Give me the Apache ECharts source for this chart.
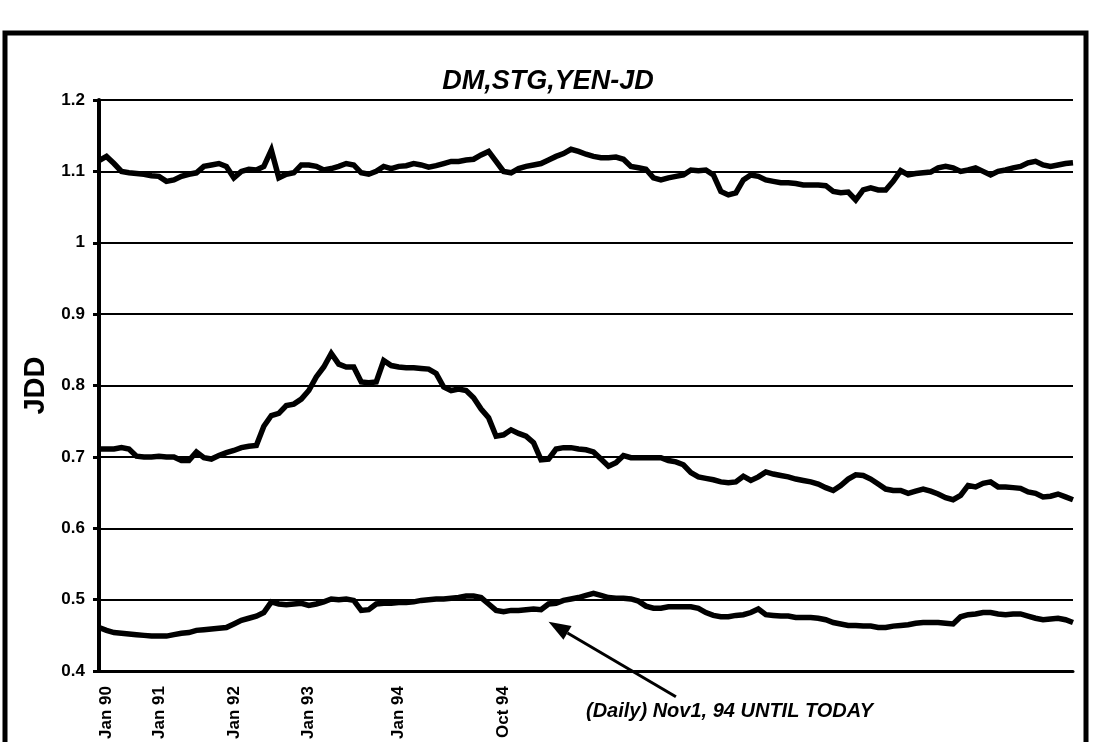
<!DOCTYPE html>
<html>
<head>
<meta charset="utf-8">
<title>DM,STG,YEN-JD</title>
<script src="https://cdn.jsdelivr.net/npm/echarts@6/dist/echarts.min.js"></script>
<style>
html, body { margin: 0; padding: 0; background: #fff; }
#chart { width: 1096px; height: 742px; }
</style>
</head>
<body>
<div id="chart"></div>
<script>
// labelled slots on the x axis (monthly up to Oct 94, daily after)
var tickNames = ['Jan 90', 'Jan 91', 'Jan 92', 'Jan 93', 'Jan 94', 'Oct 94'];
var tickSlots = [1, 8, 18, 28, 40, 54];

// STG-JD (top line)
var stg = [
	1.115, 1.121, 1.111, 1.100, 1.098, 1.097, 1.096, 1.094, 1.093, 1.086,
	1.088, 1.093, 1.096, 1.098, 1.107, 1.109, 1.111, 1.107, 1.091, 1.100,
	1.103, 1.102, 1.107, 1.130, 1.091, 1.096, 1.098, 1.109, 1.109, 1.107,
	1.102, 1.104, 1.107, 1.111, 1.109, 1.098, 1.096, 1.100, 1.107, 1.104,
	1.107, 1.108, 1.111, 1.109, 1.106, 1.108, 1.111, 1.114, 1.114, 1.116,
	1.117, 1.123, 1.128, 1.114, 1.100, 1.098, 1.104, 1.107, 1.109, 1.111,
	1.116, 1.121, 1.125, 1.131, 1.128, 1.124, 1.121, 1.119, 1.119, 1.120,
	1.117, 1.107, 1.105, 1.103, 1.091, 1.088, 1.091, 1.093, 1.095, 1.102,
	1.101, 1.102, 1.095, 1.072, 1.067, 1.070, 1.088, 1.095, 1.093, 1.088,
	1.086, 1.084, 1.084, 1.083, 1.081, 1.081, 1.081, 1.080, 1.072, 1.070,
	1.071, 1.060, 1.074, 1.077, 1.074, 1.074, 1.086, 1.101, 1.095, 1.097,
	1.098, 1.099, 1.105, 1.107, 1.105, 1.100, 1.102, 1.105, 1.100, 1.095,
	1.100, 1.102, 1.105, 1.107, 1.112, 1.114, 1.109, 1.107, 1.109, 1.111,
	1.112
];

// YEN-JD (middle line)
var yen = [
	0.711, 0.711, 0.711, 0.713, 0.711, 0.701, 0.700, 0.700, 0.701, 0.700,
	0.700, 0.695, 0.695, 0.707, 0.699, 0.697, 0.702, 0.706, 0.709, 0.713,
	0.715, 0.716, 0.743, 0.758, 0.761, 0.772, 0.774, 0.781, 0.793, 0.812,
	0.826, 0.845, 0.830, 0.826, 0.826, 0.805, 0.804, 0.805, 0.835, 0.828,
	0.826, 0.825, 0.825, 0.824, 0.823, 0.817, 0.798, 0.793, 0.795, 0.793,
	0.783, 0.767, 0.755, 0.729, 0.731, 0.738, 0.733, 0.729, 0.720, 0.696,
	0.697, 0.711, 0.713, 0.713, 0.711, 0.710, 0.707, 0.697, 0.687, 0.692,
	0.702, 0.699, 0.699, 0.699, 0.699, 0.699, 0.695, 0.693, 0.689, 0.678,
	0.672, 0.670, 0.668, 0.665, 0.664, 0.665, 0.673, 0.667, 0.672, 0.679,
	0.676, 0.674, 0.672, 0.669, 0.667, 0.665, 0.662, 0.657, 0.653, 0.660,
	0.669, 0.675, 0.674, 0.669, 0.662, 0.655, 0.653, 0.653, 0.649, 0.652,
	0.655, 0.652, 0.648, 0.643, 0.640, 0.646, 0.660, 0.658, 0.663, 0.665,
	0.658, 0.658, 0.657, 0.656, 0.651, 0.649, 0.644, 0.645, 0.648, 0.644,
	0.640
];

// DM-JD (bottom line)
var dm = [
	0.461, 0.457, 0.454, 0.453, 0.452, 0.451, 0.450, 0.449, 0.449, 0.449,
	0.451, 0.453, 0.454, 0.457, 0.458, 0.459, 0.460, 0.461, 0.466, 0.471,
	0.474, 0.477, 0.482, 0.497, 0.494, 0.493, 0.494, 0.495, 0.492, 0.494,
	0.497, 0.501, 0.500, 0.501, 0.499, 0.485, 0.486, 0.494, 0.495, 0.495,
	0.496, 0.496, 0.497, 0.499, 0.500, 0.501, 0.501, 0.502, 0.503, 0.505,
	0.505, 0.503, 0.494, 0.485, 0.483, 0.485, 0.485, 0.486, 0.487, 0.486,
	0.494, 0.495, 0.499, 0.501, 0.503, 0.506, 0.509, 0.506, 0.503, 0.502,
	0.502, 0.501, 0.498, 0.491, 0.488, 0.488, 0.490, 0.490, 0.490, 0.490,
	0.488, 0.482, 0.478, 0.476, 0.476, 0.478, 0.479, 0.482, 0.487, 0.479,
	0.478, 0.477, 0.477, 0.475, 0.475, 0.475, 0.474, 0.472, 0.468, 0.466,
	0.464, 0.464, 0.463, 0.463, 0.461, 0.461, 0.463, 0.464, 0.465, 0.467,
	0.468, 0.468, 0.468, 0.467, 0.466, 0.476, 0.479, 0.480, 0.482, 0.482,
	0.480, 0.479, 0.480, 0.480, 0.477, 0.474, 0.472, 0.473, 0.474, 0.472,
	0.468
];

// note with arrow: points at start of daily data
var noteText = '(Daily) Nov1, 94 UNTIL TODAY';
var arrowTip = [60, 0.469];
var arrowTail = [77, 0.364];

var categories = [];
for (var i = 0; i < stg.length; i++) {
	var k = tickSlots.indexOf(i);
	categories.push(k >= 0 ? tickNames[k] : 'd' + i);
}

var font = 'Liberation Sans, Arial, sans-serif';

function lineSeries(name, data) {
	return {
		name: name,
		type: 'line',
		data: data,
		symbol: 'none',
		clip: false,
		lineStyle: { color: '#000', width: 5.5, join: 'miter' },
		z: 5
	};
}

var myChart = echarts.init(document.getElementById('chart'));
var option = {
	animation: false,
	backgroundColor: '#fff',
	title: {
		text: 'DM,STG,YEN-JD',
		left: 'center',
		top: 63,
		textStyle: { fontFamily: font, fontSize: 27, fontWeight: 'bold', fontStyle: 'italic', color: '#000' }
	},
	grid: { left: 99, right: 23, top: 100, bottom: 70 },
	xAxis: {
		type: 'category',
		data: categories,
		boundaryGap: false,
		axisLine: { lineStyle: { color: '#000', width: 3 } },
		axisTick: { show: false },
		splitLine: { show: false },
		axisLabel: {
			rotate: 90,
			margin: 15,
			color: '#000',
			fontFamily: font,
			fontSize: 17,
			fontWeight: 'bold',
			interval: function (idx) { return tickSlots.indexOf(idx) >= 0; },
			formatter: function (v) { return tickNames.indexOf(v) >= 0 ? v : ''; }
		}
	},
	yAxis: {
		type: 'value',
		min: 0.4,
		max: 1.2,
		interval: 0.1,
		name: 'JDD',
		nameLocation: 'middle',
		nameGap: 36,
		nameTextStyle: { fontFamily: font, fontSize: 29, fontWeight: 'bold', color: '#000' },
		axisLine: { show: true, lineStyle: { color: '#000', width: 4 } },
		axisTick: { show: true, length: 6, lineStyle: { color: '#000', width: 3 } },
		splitLine: { lineStyle: { color: '#000', width: 2 } },
		axisLabel: {
			margin: 14,
			color: '#000',
			fontFamily: font,
			fontSize: 17,
			fontWeight: 'bold',
			formatter: function (v) { return String(Math.round(v * 10) / 10); }
		}
	},
	series: [
		lineSeries('STG', stg),
		lineSeries('YEN', yen),
		lineSeries('DM', dm)
	]
};
myChart.setOption(option);

// frame, note and arrow
var tip = myChart.convertToPixel({ gridIndex: 0 }, arrowTip);
var tail = myChart.convertToPixel({ gridIndex: 0 }, arrowTail);
var ang = Math.atan2(tip[1] - tail[1], tip[0] - tail[0]);
var headLen = 22, headW = 8;
var bx = tip[0] - headLen * Math.cos(ang), by = tip[1] - headLen * Math.sin(ang);
var px = -Math.sin(ang) * headW, py = Math.cos(ang) * headW;

myChart.setOption({
	graphic: [
		{
			type: 'rect',
			shape: { x: 5, y: 33, width: 1081, height: 780 },
			style: { fill: 'none', stroke: '#000', lineWidth: 5 },
			silent: true
		},
		{
			type: 'line',
			shape: { x1: tail[0], y1: tail[1], x2: bx, y2: by },
			style: { stroke: '#000', lineWidth: 3 },
			z: 10
		},
		{
			type: 'polygon',
			shape: { points: [tip, [bx + px, by + py], [bx - px, by - py]] },
			style: { fill: '#000' },
			z: 10
		},
		{
			type: 'text',
			left: 586,
			top: 701,
			style: { text: noteText, fill: '#000', font: 'italic bold 20px ' + font },
			z: 10
		}
	]
});
</script>
</body>
</html>
